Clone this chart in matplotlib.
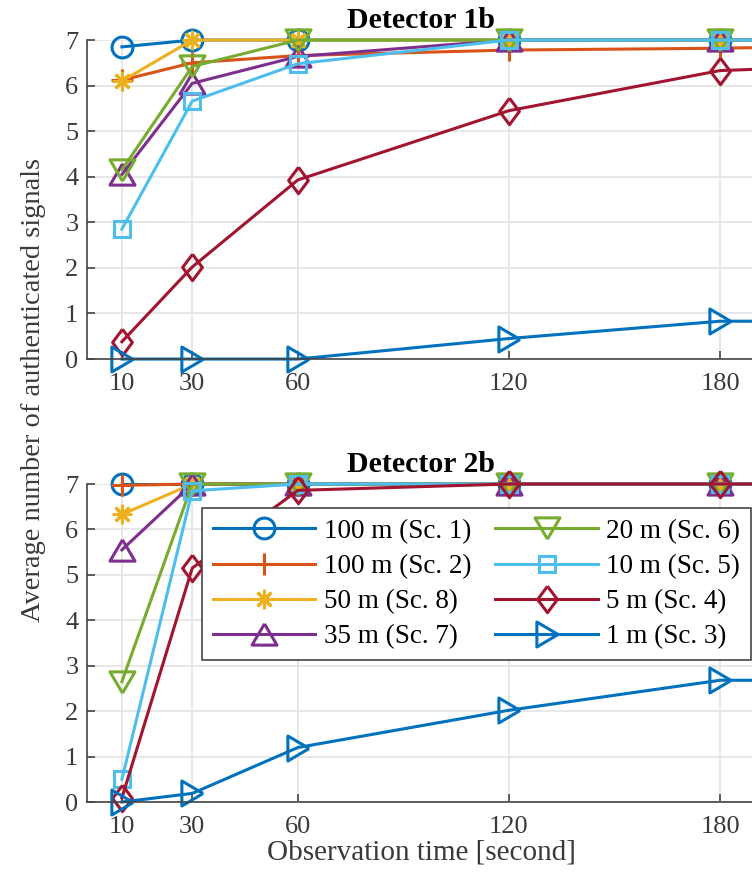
import matplotlib
matplotlib.use('Agg')
import matplotlib.pyplot as plt

plt.rcParams['font.family'] = ['Liberation Serif', 'DejaVu Serif']

times = [10, 30, 60, 120, 180, 240]
tick_times = [10, 30, 60, 120, 180]

labels = ['100 m (Sc. 1)', '100 m (Sc. 2)', '50 m (Sc. 8)', '35 m (Sc. 7)',
          '20 m (Sc. 6)', '10 m (Sc. 5)', '5 m (Sc. 4)', '1 m (Sc. 3)']

# Detector 1b
det1_sc1 = [6.85, 7, 7, 7, 7, 7]
det1_sc2 = [6.12, 6.5, 6.66, 6.78, 6.82, 6.9]
det1_sc8 = [6.1, 7, 7, 7, 7, 7]
det1_sc7 = [4.05, 6.05, 6.64, 7, 7, 7]
det1_sc6 = [4.15, 6.42, 7, 7, 7, 7]
det1_sc5 = [2.85, 5.66, 6.48, 7, 7, 7]
det1_sc4 = [0.38, 2.02, 3.93, 5.45, 6.33, 6.5]
det1_sc3 = [0, 0, 0, 0.45, 0.83, 0.83]

# Detector 2b
det2_sc1 = [7, 7, 7, 7, 7, 7]
det2_sc2 = [6.97, 7, 7, 7, 7, 7]
det2_sc8 = [6.33, 7, 7, 7, 7, 7]
det2_sc7 = [5.55, 7, 7, 7, 7, 7]
det2_sc6 = [2.65, 7, 7, 7, 7, 7]
det2_sc5 = [0.5, 6.85, 7, 7, 7, 7]
det2_sc4 = [0.09, 5.15, 6.86, 7, 7, 7]
det2_sc3 = [0, 0.19, 1.2, 2.02, 2.68, 2.68]

colors = ['#0072BD', '#D95319', '#EDB120', '#7E2F8E',
          '#77AC30', '#4DBEEE', '#A2142F', '#0072BD']

# closed outlines for MATLAB-like triangles / diamond
tri_up = [(0, 0.85), (-1, -0.85), (1, -0.85), (0, 0.85)]
tri_down = [(0, -0.85), (-1, 0.85), (1, 0.85), (0, -0.85)]
tri_right = [(0.85, 0), (-0.85, 1), (-0.85, -1), (0.85, 0)]
diamond = [(0, 1), (0.75, 0), (0, -1), (-0.75, 0), (0, 1)]
markers = ['o', '+', (8, 2, 0), tri_up, tri_down, 's', diamond, tri_right]
msizes = [15, 16, 14, 18, 18, 11.5, 19, 18]

tick_col = '#3a3a3a'

fig = plt.figure(figsize=(7.52, 8.8), dpi=100)
ax1 = fig.add_axes([0.1153, 0.592, 0.889, 0.3625])
ax2 = fig.add_axes([0.1153, 0.0886, 0.889, 0.3614])

series1 = [det1_sc1, det1_sc2, det1_sc8, det1_sc7, det1_sc6, det1_sc5, det1_sc4, det1_sc3]
series2 = [det2_sc1, det2_sc2, det2_sc8, det2_sc7, det2_sc6, det2_sc5, det2_sc4, det2_sc3]

for ax, series, title in [(ax1, series1, 'Detector 1b'), (ax2, series2, 'Detector 2b')]:
    for vals, c, m, ms, lab in zip(series, colors, markers, msizes, labels):
        line, = ax.plot(times, vals, color=c, lw=2.2, marker=m, ms=ms,
                        mfc='none', mec=c, mew=2.2, label=lab)
        line.set_clip_on(False)
    ax.set_xlim(0, 190)
    ax.set_ylim(0, 7)
    ax.set_xticks(tick_times)
    ax.set_yticks(range(8))
    ax.grid(True, color='#e3e3e3', lw=1.2)
    ax.set_axisbelow(True)
    for s in ['top', 'right']:
        ax.spines[s].set_visible(False)
    for s in ['left', 'bottom']:
        ax.spines[s].set_color('#444444')
        ax.spines[s].set_linewidth(1.2)
    ax.tick_params(direction='in', length=6, width=1.2, color='#444444',
                   labelsize=19, labelcolor=tick_col)
    ax.tick_params(axis='x', pad=10)
    ax.tick_params(axis='y', pad=6)
    ax.set_title(title, fontsize=21.5, fontweight='bold', pad=9)

leg = ax2.legend(ncol=2, loc='upper left', bbox_to_anchor=(0.172, 0.925),
                 borderaxespad=0, fontsize=19.5, frameon=True, fancybox=False,
                 edgecolor='#444444', framealpha=1, handlelength=3.8,
                 labelspacing=0.38, columnspacing=0.9, handletextpad=0.3,
                 borderpad=0.4)
leg.get_frame().set_linewidth(1.2)

ax2.set_xlabel('Observation time [second]', fontsize=21, color=tick_col, labelpad=1)
fig.text(0.044, 0.557, 'Average number of authenticated signals', rotation=90,
         fontsize=20.5, color=tick_col, ha='center', va='center')

fig.savefig('out.png', dpi=100)
